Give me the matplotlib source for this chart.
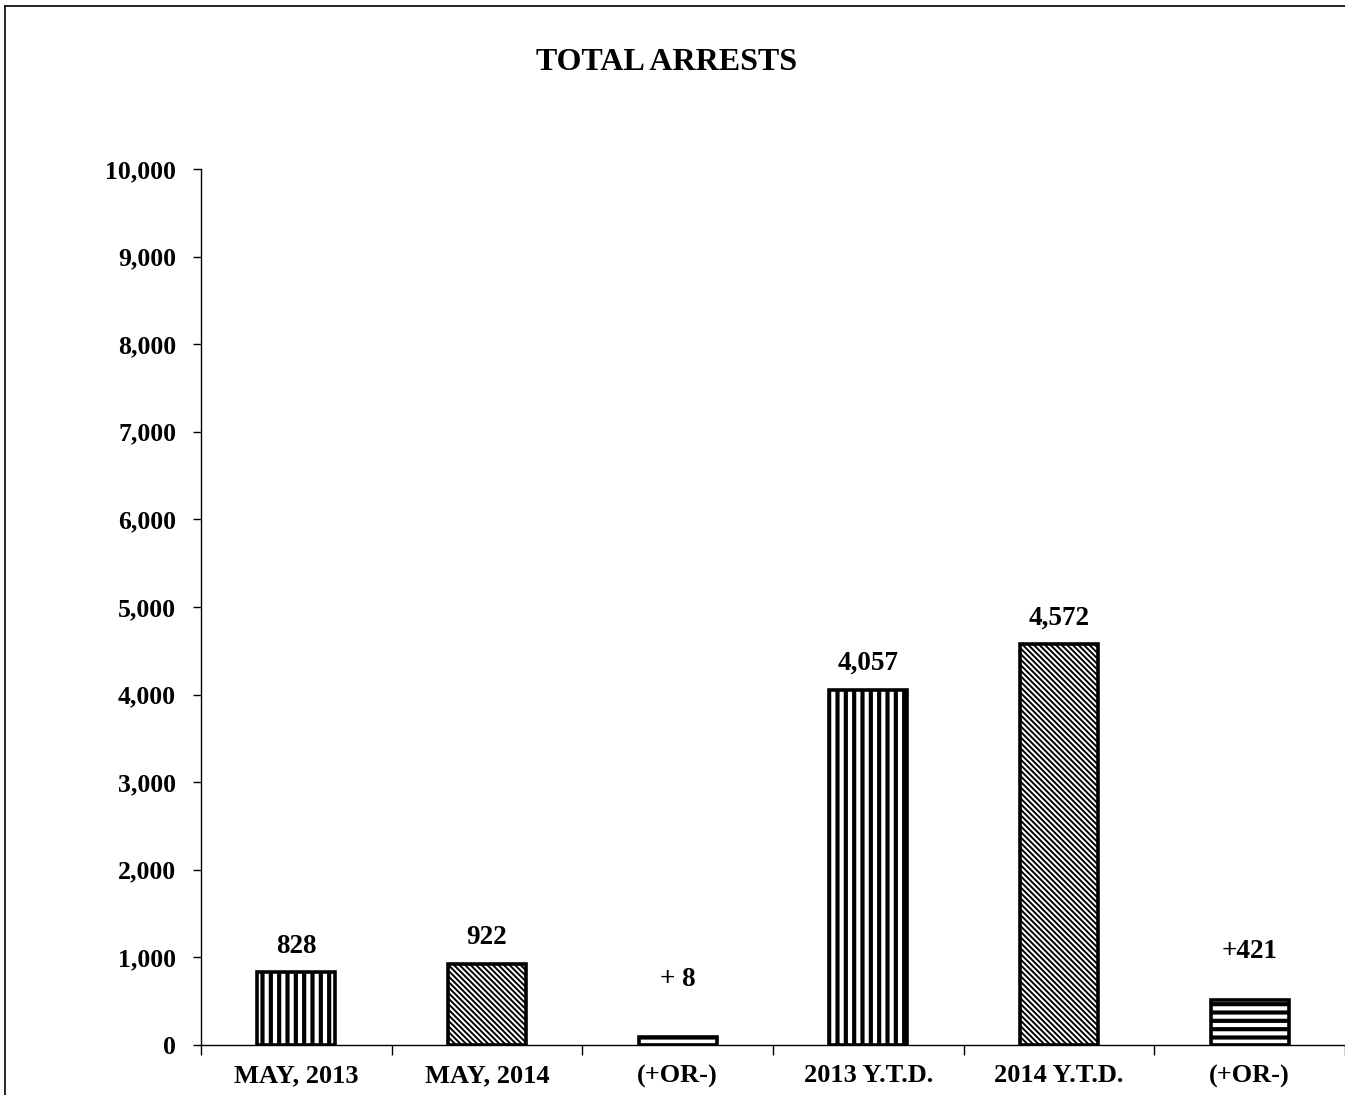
import matplotlib
matplotlib.use("Agg")
import matplotlib.pyplot as plt
from matplotlib.lines import Line2D

# donnees du graphique
categories = ["MAY, 2013", "MAY, 2014", "(+OR-)", "2013 Y.T.D.", "2014 Y.T.D.", "(+OR-)"]
valeurs = [828, 922, 94, 4057, 4572, 515]
etiquettes = ["828", "922", "+ 8", "4,057", "4,572", "+421"]
hachures = ["||", "\\" * 6, "--", "||", "\\" * 6, "--"]
epaisseurs_hachure = [3.0, 1.4, 3.0, 3.0, 1.4, 3.0]
yticks = list(range(0, 10001, 1000))
ytick_labels = [f"{v:,}" for v in yticks]

plt.rcParams["font.family"] = ["Liberation Serif", "DejaVu Serif"]
plt.rcParams["font.weight"] = "bold"

fig = plt.figure(figsize=(13.45, 10.95), dpi=100)
W, H = 1345, 1095
ax = fig.add_axes([201 / W, (H - 1045) / H, (1345 - 201) / W, (1045 - 169) / H])

x = list(range(len(categories)))
# une barre a la fois pour pouvoir changer l'epaisseur des hachures
for xi, v, h, lw in zip(x, valeurs, hachures, epaisseurs_hachure):
    with plt.rc_context({"hatch.linewidth": lw}):
        b = ax.bar(xi, v, width=0.41, color="white", edgecolor="black",
                   linewidth=2.6, hatch=h, zorder=3)[0]
    if hasattr(b, "set_hatch_linewidth"):
        b.set_hatch_linewidth(lw)

# etiquettes de valeur (les ecarts sont places plus haut)
decalages = [10, 10, 32, 10, 10, 26]
for xi, v, lab, d in zip(x, valeurs, etiquettes, decalages):
    ax.annotate(lab, (xi, v), xytext=(0, d), textcoords="offset points",
                ha="center", va="bottom", fontsize=19.5, fontweight="bold")

ax.set_xlim(-0.5, -0.5 + (1345 - 201) / 191.3)
ax.set_ylim(0, 10000)
ax.set_yticks(yticks)
ax.set_yticklabels(ytick_labels)

ax.set_xticks([i - 0.5 for i in range(len(categories) + 1)])
ax.set_xticklabels([])
ax.set_xticks(x, minor=True)
ax.set_xticklabels(categories, minor=True)
ax.tick_params(axis="x", which="minor", length=0, pad=14, labelsize=19)
ax.tick_params(axis="x", which="major", length=7, width=1, direction="out")
ax.tick_params(axis="y", length=6, width=1, direction="out", pad=12, labelsize=18.5)
for lab in ax.get_xticklabels(minor=True) + ax.get_yticklabels():
    lab.set_fontweight("bold")

ax.spines["top"].set_visible(False)
ax.spines["right"].set_visible(False)
ax.spines["left"].set_linewidth(1)
ax.spines["bottom"].set_linewidth(1)

fig.text(667 / W, 1 - 63 / H, "TOTAL ARRESTS", ha="center", va="center",
         fontsize=23, fontweight="bold")

# cadre partiel autour de la figure
fig.add_artist(Line2D([5 / W, 5 / W], [0, 1 - 6 / H], color="black", lw=1.2,
                      transform=fig.transFigure))
fig.add_artist(Line2D([5 / W, 1], [1 - 6 / H, 1 - 6 / H], color="black", lw=1.2,
                      transform=fig.transFigure))

fig.savefig("out.png", dpi=100)
